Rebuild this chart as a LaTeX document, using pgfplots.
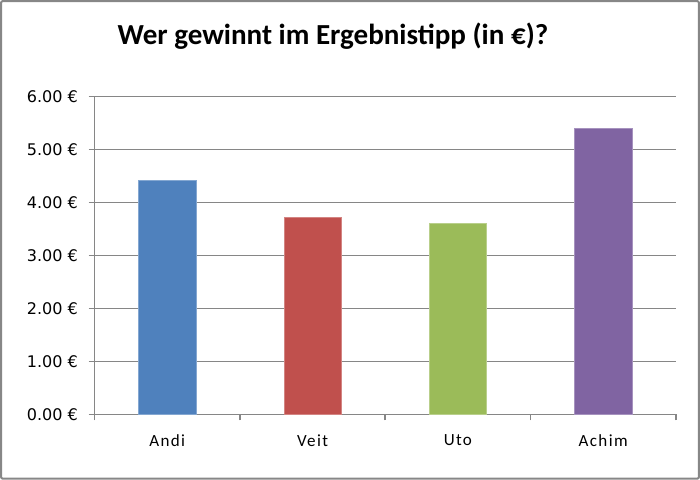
\documentclass[border=0pt]{standalone}
\usepackage{fontspec}
\setmainfont{Carlito}
\newfontfamily\tickfont{DejaVu Sans}
\newfontfamily\catfont[LetterSpace=8]{Carlito}
\usepackage{pgfplots}
\pgfplotsset{compat=1.18}
\definecolor{gridgray}{HTML}{868686}
\definecolor{frame}{HTML}{878787}
\definecolor{cblue}{HTML}{4F81BD}
\definecolor{cred}{HTML}{C0504D}
\definecolor{cgreen}{HTML}{9BBB59}
\definecolor{cpurple}{HTML}{8064A2}
\begin{document}
\begin{tikzpicture}[x=1bp,y=1bp]
\draw[frame, line width=2bp, rounded corners=2bp] (3,3) rectangle (697,478);
\node[anchor=base, font=\bfseries\fontsize{29}{32}\selectfont] at (333,435) {Wer gewinnt im Ergebnistipp (in €)?};
\begin{axis}[
  at={(96bp,67bp)}, anchor=south west,
  scale only axis, width=578bp, height=316bp,
  xmin=-0.5, xmax=3.5, ymin=0, ymax=6,
  axis x line*=bottom, axis y line*=left,
  axis line style={gridgray, line width=1.5bp, -},
  ymajorgrids, grid style={gridgray, line width=1.5bp},
  ytick={0,1,2,3,4,5,6},
  xtick={0,1,2,3},
  xticklabels={Andi,Veit,Uto,Achim},
  minor xtick={-0.5,0.5,1.5,2.5,3.5},
  tick align=outside,
  major x tick style={draw=none},
  minor tick length=6bp,
  major tick length=6bp,
  tick style={gridgray, line width=1.5bp},
  /pgf/number format/assume math mode=true,
  yticklabel={\pgfmathprintnumber[fixed, fixed zerofill, precision=2]{\tick}~€},
  yticklabel style={font=\tickfont\fontsize{16}{18}\selectfont, xshift=-7bp},
  xticklabel style={font=\catfont\fontsize{17}{19}\selectfont, yshift=-11bp},
]
\addplot[ybar, bar width=57bp, bar shift=0pt, fill=cblue, draw=cblue!70!white] coordinates {(0,4.42)};
\addplot[ybar, bar width=57bp, bar shift=0pt, fill=cred, draw=cred!70!white] coordinates {(1,3.72)};
\addplot[ybar, bar width=57bp, bar shift=0pt, fill=cgreen, draw=cgreen!70!white] coordinates {(2,3.60)};
\addplot[ybar, bar width=57bp, bar shift=0pt, fill=cpurple, draw=cpurple!70!white] coordinates {(3,5.41)};
\end{axis}
\end{tikzpicture}
\end{document}
